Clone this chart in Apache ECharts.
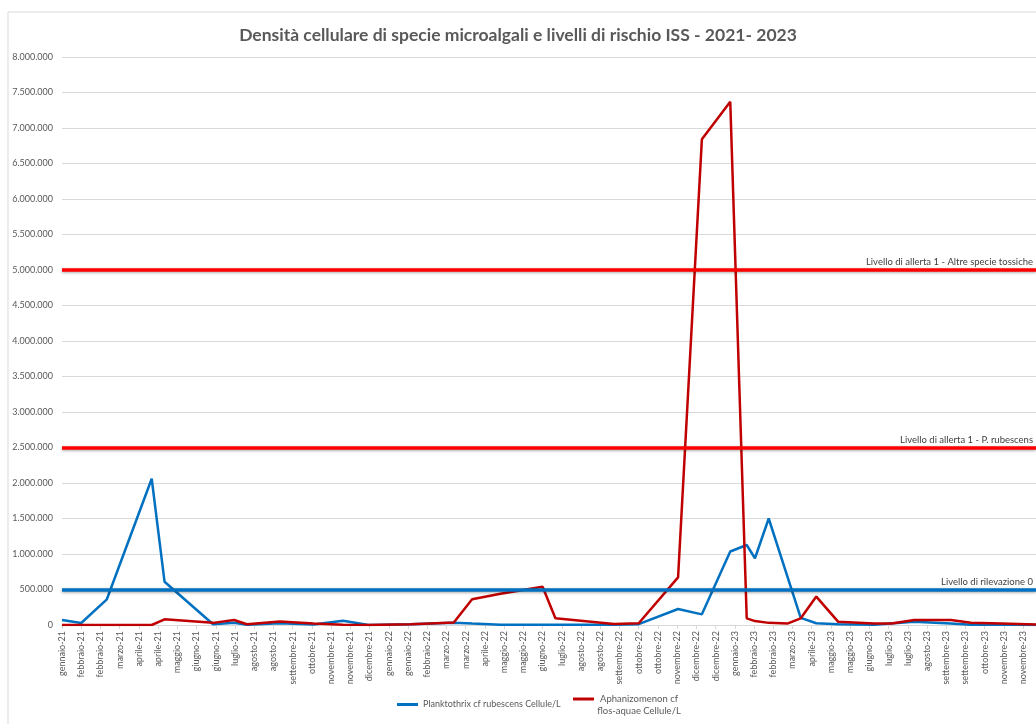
<!DOCTYPE html>
<html>
<head>
<meta charset="utf-8">
<script src="https://cdn.jsdelivr.net/npm/echarts@6/dist/echarts.min.js"></script>
<style>
  html, body { margin: 0; padding: 0; background: #fff; }
  #main { width: 1036px; height: 724px; }
</style>
</head>
<body>
<div id="main"></div>
<script>
// asse x: date, un'etichetta ogni 21 giorni a partire da startDate
var startDate = '2021-01-11';
var tickStep = 21;
var tickLabels = [
  'gennaio-21', 'febbraio-21', 'febbraio-21', 'marzo-21', 'aprile-21', 'aprile-21', 'maggio-21', 'giugno-21', 'giugno-21',
  'luglio-21', 'agosto-21', 'agosto-21', 'settembre-21', 'ottobre-21', 'novembre-21', 'novembre-21', 'dicembre-21',
  'gennaio-22', 'gennaio-22', 'febbraio-22', 'marzo-22', 'marzo-22', 'aprile-22', 'maggio-22', 'maggio-22', 'giugno-22',
  'luglio-22', 'agosto-22', 'agosto-22', 'settembre-22', 'ottobre-22', 'ottobre-22', 'novembre-22', 'dicembre-22', 'dicembre-22',
  'gennaio-23', 'febbraio-23', 'febbraio-23', 'marzo-23', 'aprile-23', 'maggio-23', 'maggio-23', 'giugno-23', 'luglio-23',
  'luglio-23', 'agosto-23', 'settembre-23', 'settembre-23', 'ottobre-23', 'novembre-23', 'novembre-23'
];

// Planktothrix cf rubescens (cellule/L)
var planktothrixDates = [
  '2021-01-11', '2021-02-01', '2021-03-01', '2021-04-19', '2021-05-03', '2021-06-25', '2021-07-18', '2021-08-01',
  '2021-09-06', '2021-10-13', '2021-11-14', '2021-12-12', '2022-01-27', '2022-03-15', '2022-04-04', '2022-05-05',
  '2022-06-20', '2022-09-06', '2022-10-03', '2022-11-15', '2022-12-11', '2023-01-11', '2023-01-29', '2023-02-07',
  '2023-02-22', '2023-03-29', '2023-04-15', '2023-05-09', '2023-06-17', '2023-07-31', '2023-09-09', '2023-10-01',
  '2023-11-03', '2023-12-11'
];
var planktothrixValues = [
  70000, 28000, 362000, 2060000, 610000, 10000, 32000, 5000,
  25000, 8000, 60000, 0, 12000, 30000, 20000, 5000,
  2000, 3000, 12000, 225000, 150000, 1035000, 1127000, 940000,
  1500000, 100000, 24000, 10000, 5000, 45000, 20000, 5000,
  2000, 0
];

// Aphanizomenon cf flos-aquae (cellule/L)
var aphanizomenonDates = [
  '2021-01-11', '2021-04-19', '2021-05-03', '2021-06-25', '2021-07-18', '2021-08-01', '2021-09-06', '2021-10-13',
  '2021-11-14', '2021-12-12', '2022-01-27', '2022-03-15', '2022-04-04', '2022-05-05', '2022-06-20', '2022-07-04',
  '2022-09-06', '2022-10-03', '2022-11-15', '2022-12-11', '2023-01-11', '2023-01-29', '2023-02-07', '2023-02-22',
  '2023-03-15', '2023-03-29', '2023-04-15', '2023-05-09', '2023-06-17', '2023-07-06', '2023-07-31', '2023-09-09',
  '2023-10-01', '2023-11-03', '2023-12-11'
];
var aphanizomenonValues = [
  0, 0, 80000, 30000, 70000, 10000, 50000, 20000,
  5000, 0, 12000, 35000, 362000, 440000, 540000, 95000,
  15000, 25000, 670000, 6840000, 7370000, 94000, 55000, 30000,
  22000, 94000, 400000, 45000, 20000, 20000, 70000, 70000,
  32000, 22000, 8000
];

// livelli di rischio ISS
var sogliaNomi = ['Livello di allerta 1 - Altre specie tossiche', 'Livello di allerta 1 - P. rubescens', 'Livello di rilevazione 0'];
var sogliaValori = [5000000, 2500000, 500000];

var FONT = 'Lato, "Liberation Sans", sans-serif';

function giorni(d) {
  return Math.round((Date.parse(d) - Date.parse(startDate)) / 86400000);
}
function punti(dates, values) {
  return dates.map(function (d, i) { return [giorni(d), values[i]]; });
}
function migliaia(v) {
  return String(v).replace(/\B(?=(\d{3})+(?!\d))/g, '.');
}
function soglia(i, color) {
  return {
    yAxis: sogliaValori[i],
    lineStyle: { color: color, width: 3.5, type: 'solid', shadowColor: 'rgba(0,0,0,0.35)', shadowBlur: 3, shadowOffsetY: 1 },
    label: { formatter: sogliaNomi[i] }
  };
}

var myChart = echarts.init(document.getElementById('main'));

myChart.setOption({
  animation: false,
  backgroundColor: '#fff',
  graphic: [{
    type: 'rect',
    shape: { x: 8, y: 12, width: 1040, height: 720 },
    style: { fill: 'none', stroke: '#d9d9d9', lineWidth: 1 },
    silent: true
  }],
  title: {
    text: 'Densità cellulare di specie microalgali e livelli di rischio ISS - 2021- 2023',
    left: 'center',
    top: 21,
    textStyle: { fontFamily: FONT, fontSize: 17.5, fontWeight: 'bold', color: '#595959' }
  },
  legend: [{
    data: ['Planktothrix cf rubescens Cellule/L'],
    left: 392,
    top: 695,
    icon: 'rect',
    itemWidth: 21,
    itemHeight: 3,
    itemGap: 0,
    textStyle: { fontFamily: FONT, fontSize: 9, color: '#595959' }
  }, {
    data: ['Aphanizomenon cf flos-aquae Cellule/L'],
    left: 568,
    top: 689,
    icon: 'rect',
    itemWidth: 21,
    itemHeight: 3,
    formatter: function () { return '{a|Aphanizomenon cf}\n{a|flos-aquae Cellule/L}'; },
    textStyle: {
      fontFamily: FONT, fontSize: 9.5, color: '#595959', padding: [12, 0, 0, 0],
      rich: { a: { fontFamily: FONT, fontSize: 9.5, color: '#595959', width: 80, align: 'center', lineHeight: 12 } }
    }
  }],
  grid: { left: 62, right: 0, top: 57, bottom: 99 },
  xAxis: {
    type: 'value',
    min: 0,
    max: 1064,
    interval: tickStep,
    axisLine: { show: true, lineStyle: { color: '#d9d9d9' } },
    axisTick: { show: true, length: 4, lineStyle: { color: '#d9d9d9' } },
    splitLine: { show: false },
    axisLabel: {
      rotate: 90,
      margin: 6,
      fontFamily: FONT,
      fontSize: 9,
      color: '#595959',
      showMaxLabel: false,
      formatter: function (v) {
        var k = v / tickStep;
        return (k === Math.round(k) && tickLabels[k]) ? tickLabels[k] : '';
      }
    }
  },
  yAxis: {
    type: 'value',
    min: 0,
    max: 8000000,
    interval: 500000,
    axisLine: { show: false },
    axisTick: { show: false },
    splitLine: { lineStyle: { color: '#d9d9d9' } },
    axisLabel: { margin: 9, fontFamily: FONT, fontSize: 9, color: '#595959', formatter: migliaia }
  },
  series: [{
    name: 'Planktothrix cf rubescens Cellule/L',
    type: 'line',
    data: punti(planktothrixDates, planktothrixValues),
    symbol: 'none',
    lineStyle: { width: 2.5, color: '#0070C0' },
    itemStyle: { color: '#0070C0' },
    z: 3,
    markLine: {
      silent: true,
      symbol: 'none',
      label: { position: 'insideEndTop', distance: 3, fontFamily: FONT, fontSize: 9.5, color: '#404040' },
      data: [soglia(2, '#0070C0')]
    }
  }, {
    name: 'Aphanizomenon cf flos-aquae Cellule/L',
    type: 'line',
    data: punti(aphanizomenonDates, aphanizomenonValues),
    symbol: 'none',
    lineStyle: { width: 2.5, color: '#C00000' },
    itemStyle: { color: '#C00000' },
    z: 4,
    markLine: {
      silent: true,
      symbol: 'none',
      label: { position: 'insideEndTop', distance: 3, fontFamily: FONT, fontSize: 9.5, color: '#404040' },
      data: [soglia(0, '#FF0000'), soglia(1, '#FF0000')]
    }
  }]
});
</script>
</body>
</html>
